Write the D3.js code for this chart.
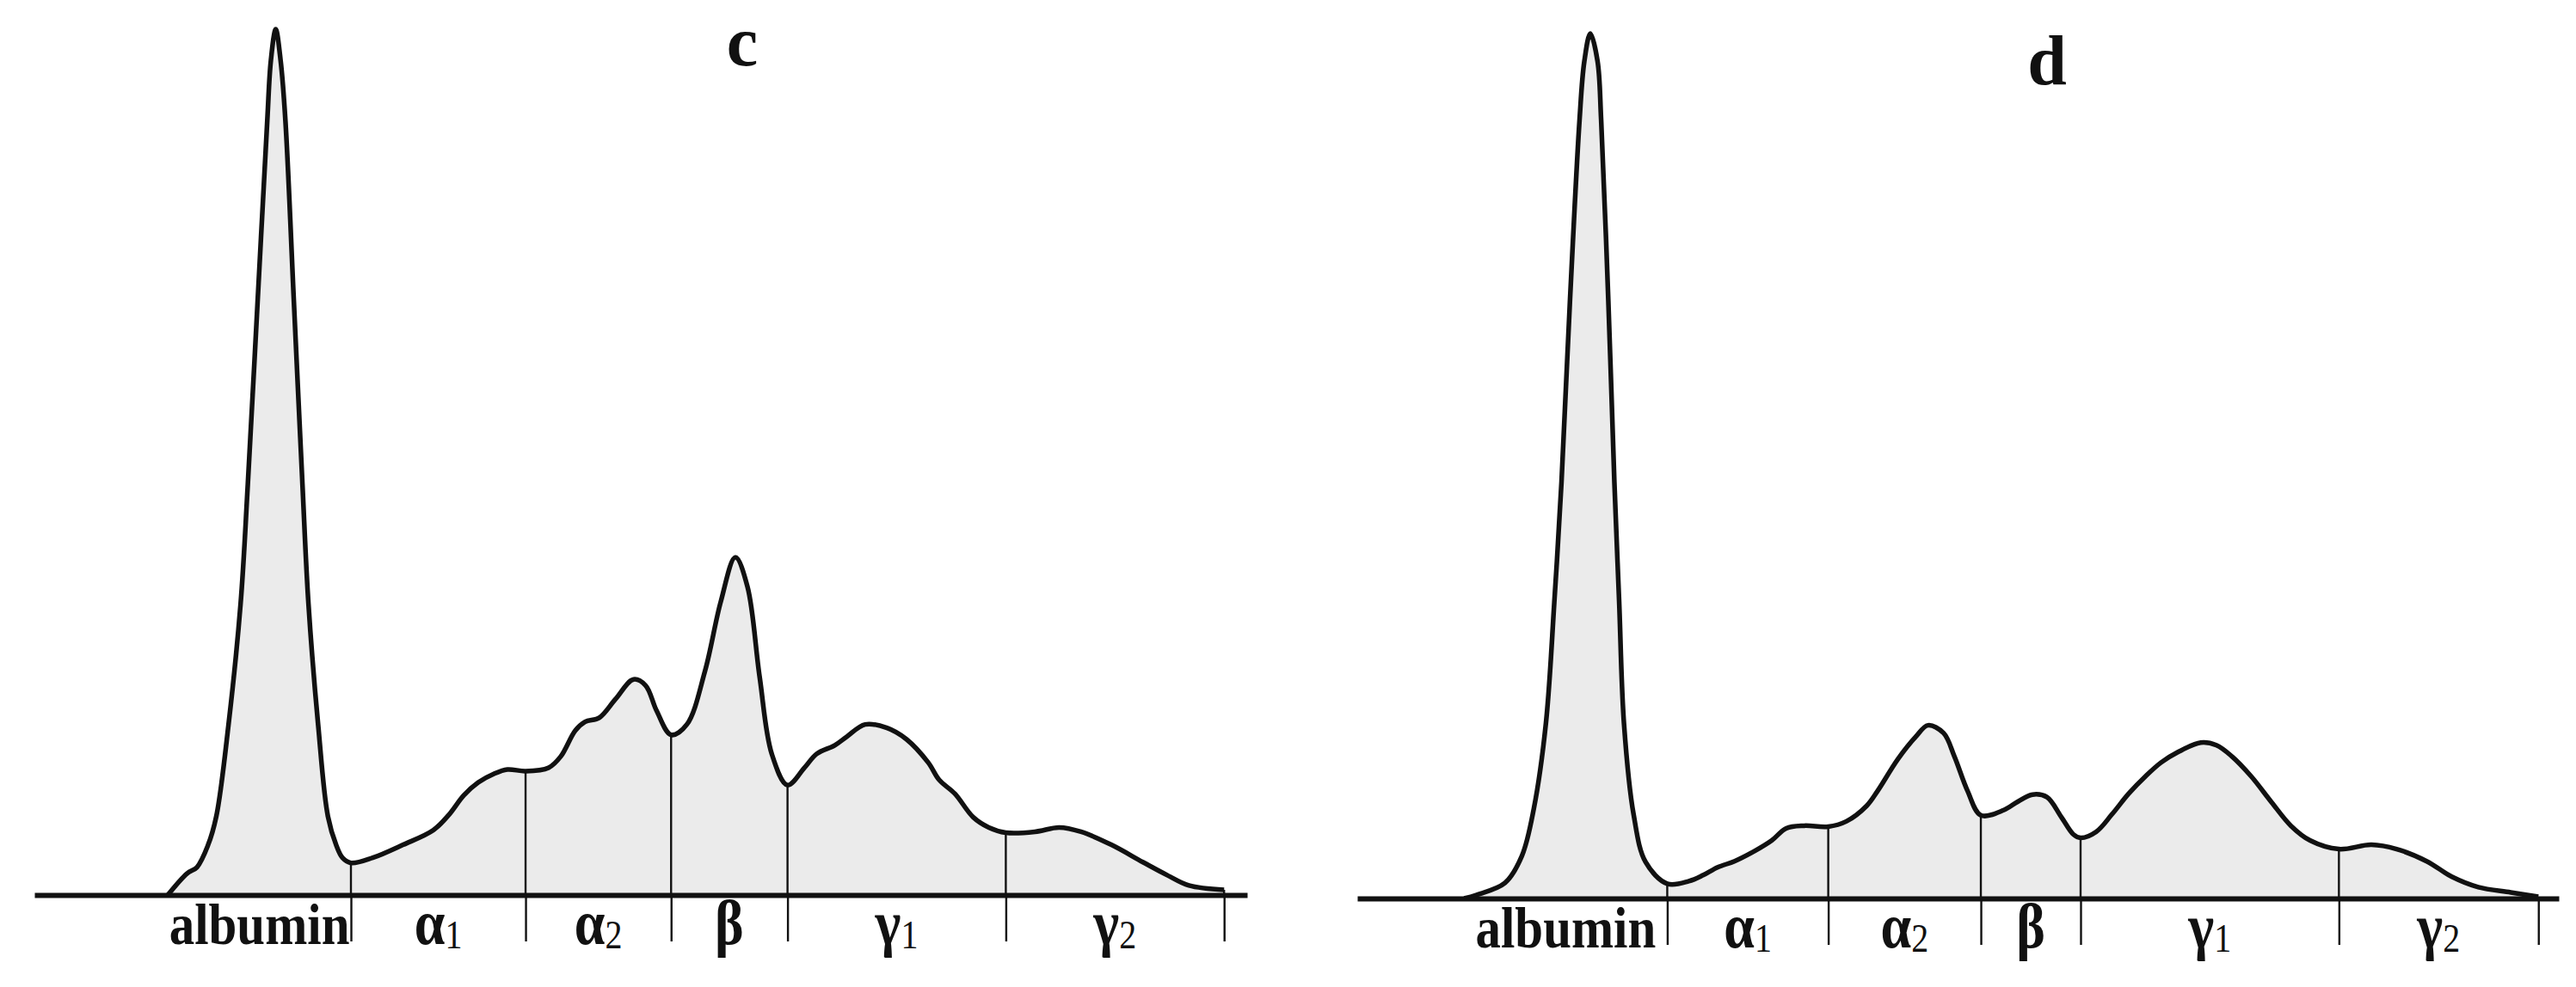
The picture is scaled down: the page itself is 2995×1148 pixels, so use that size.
<!DOCTYPE html>
<html><head><meta charset="utf-8">
<script src="https://cdn.jsdelivr.net/npm/d3@7"></script>
<style>html,body{margin:0;padding:0;background:#fff;} svg{display:block;}</style>
</head><body>
<svg id="chart" width="2995" height="1148"></svg>
<script>
// ---- data (relative mobility 0-100, relative absorbance 0-100) ----
const panelTitles = ["c", "d"];
const fractionNames = ["albumin", "α", "α", "β", "γ", "γ"];
const fractionSubs  = ["", "1", "2", "", "1", "2"];

const xC = [11.0,12.6,13.4,14.3,15.0,16.0,17.0,17.6,18.4,19.2,19.5,19.9,20.3,20.7,21.4,22.1,22.6,23.4,24.2,24.9,25.4,26.1,
  27.9,30.4,32.9,34.2,35.4,36.6,37.9,39.0,40.5,42.4,43.4,44.6,45.4,46.6,47.9,49.4,50.4,51.3,52.5,53.8,55.3,56.6,57.8,58.8,59.8,60.8,62.1,
  63.5,64.5,66.0,67.0,68.5,70.3,71.9,73.7,74.6,75.9,77.4,78.7,80.1,82.5,84.5,86.3,88.8,91.4,93.4,95.2,98.1];
const yC = [0,2.5,3.2,5.7,9.1,19.6,33.6,47.5,68.4,89.4,96.4,100,96.4,89.4,68.4,47.5,33.6,19.6,9.1,5.7,4.3,3.7,
  4.3,5.8,7.5,9.3,11.5,13.0,14.0,14.5,14.3,14.7,16.0,19.0,20.0,20.5,22.6,24.9,24.2,21.3,18.5,19.7,25.9,33.9,39.0,35.6,25.2,16.3,12.7,
  14.7,16.3,17.3,18.3,19.7,19.3,18.0,15.3,13.3,11.7,9.0,7.8,7.2,7.3,7.8,7.3,5.8,3.8,2.3,1.1,0.6];
const boundsC = [26.1, 40.5, 52.5, 62.1, 80.1, 98.1];

const xD = [8.9,9.9,12.3,13.7,14.7,15.7,16.4,17.0,17.7,18.5,18.9,19.4,20.0,20.3,20.9,21.4,21.8,22.2,23.0,24.0,25.8,
  27.6,28.8,30.0,31.4,33.1,34.5,35.7,37.2,39.2,40.7,42.4,43.3,45.0,46.5,47.5,48.8,49.7,50.8,51.9,53.8,55.0,56.2,57.4,58.6,59.6,60.2,
  61.5,62.8,64.2,65.6,66.9,68.3,70.2,71.5,72.8,74.4,76.1,77.7,79.3,81.7,84.4,86.5,89.0,91.1,93.3,96.0,98.3];
const yD = [0,0.4,1.8,4.9,10.4,20.2,34.2,48.1,68.9,89.9,96.7,99.9,96.7,89.9,68.9,48.1,34.2,20.2,9.7,4.2,1.7,
  2.0,2.7,3.6,4.3,5.5,6.7,8.1,8.4,8.3,8.9,10.7,12.4,16.1,18.7,20.0,19.1,16.4,12.4,9.6,10.2,11.2,12.0,11.7,9.4,7.4,7.0,
  7.7,9.7,12.1,14.1,15.7,16.9,18.0,17.7,16.4,14.1,11.1,8.4,6.7,5.7,6.2,5.7,4.3,2.5,1.3,0.7,0.2];
const boundsD = [25.8, 39.2, 51.9, 60.2, 81.7, 98.3];

// ---- layout ----
const panels = [
  {title: panelTitles[0], xs: xC, ys: yC, bounds: boundsC, r0: 40,   r1: 1450, base: 1041, tx: 863,  ty: 76},
  {title: panelTitles[1], xs: xD, ys: yD, bounds: boundsD, r0: 1578, r1: 2975, base: 1045, tx: 2380, ty: 98}
];
const PEAK_PX = 1007;
const FONT = "'Liberation Serif','Times New Roman',Times,serif";

const svg = d3.select("#chart");
svg.append("rect").attr("width", 2995).attr("height", 1148).attr("fill", "#fff");

panels.forEach(p => {
  const x = d3.scaleLinear().domain([0, 100]).range([p.r0, p.r1]);
  const y = d3.scaleLinear().domain([0, 100]).range([p.base, p.base - PEAK_PX]);
  const idx = d3.range(p.xs.length);
  const g = svg.append("g");
  const curve = d3.curveCatmullRom.alpha(0.5);

  const area = d3.area().x(i => x(p.xs[i])).y0(p.base).y1(i => Math.min(p.base, y(p.ys[i]))).curve(curve);
  const line = d3.line().x(i => x(p.xs[i])).y(i => y(p.ys[i])).curve(curve);

  g.append("path").attr("d", area(idx)).attr("fill", "#ebebeb").attr("stroke", "none");

  // dividers from curve down to baseline
  p.bounds.forEach(b => {
    const i = d3.leastIndex(idx, j => Math.abs(p.xs[j] - b));
    g.append("line")
      .attr("x1", x(b)).attr("x2", x(b))
      .attr("y1", y(p.ys[i])).attr("y2", p.base)
      .attr("stroke", "#111").attr("stroke-width", 2.4);
  });

  g.append("path").attr("d", line(idx)).attr("fill", "none")
    .attr("stroke", "#111").attr("stroke-width", 5.5).attr("stroke-linejoin", "round");

  // baseline axis with ticks at fraction boundaries
  const axis = d3.axisBottom(x).tickValues(p.bounds).tickSize(54).tickSizeOuter(0).tickFormat("");
  const ag = g.append("g").attr("transform", `translate(0,${p.base})`).call(axis);
  ag.select(".domain").attr("stroke", "#111").attr("stroke-width", 6);
  ag.selectAll(".tick line").attr("stroke", "#111").attr("stroke-width", 2.4);

  // fraction labels centred in each segment
  const edges = [p.xs[0]].concat(p.bounds);
  fractionNames.forEach((name, k) => {
    const cx = x((edges[k] + edges[k + 1]) / 2);
    const isGreek = !!fractionSubs[k] || name === "β";
    const t = g.append("text")
      .attr("transform", `translate(${cx},${p.base + 57}) scale(1,1.15)`)
      .attr("text-anchor", "middle")
      .attr("font-family", FONT).attr("fill", "#111");
    t.append("tspan").attr("font-size", isGreek ? 64 : 59).attr("font-weight", "bold").text(name);
    if (fractionSubs[k]) {
      t.append("tspan").attr("font-size", 40).attr("font-weight", "normal").attr("dy", 4).text(fractionSubs[k]);
    }
  });

  // panel title
  g.append("text").attr("x", p.tx).attr("y", p.ty)
    .attr("text-anchor", "middle").attr("font-family", FONT)
    .attr("font-weight", "bold").attr("font-size", 82).attr("fill", "#111")
    .text(p.title);
});
</script>
</body></html>
